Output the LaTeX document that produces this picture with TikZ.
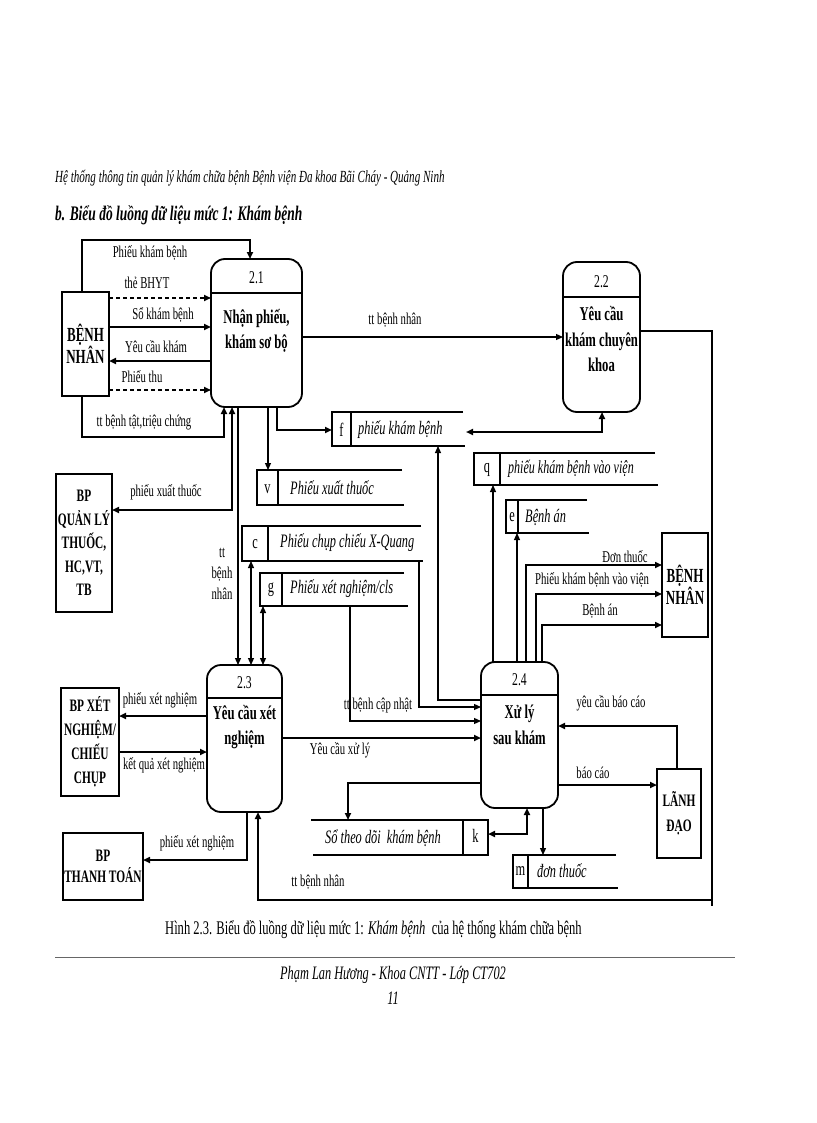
\documentclass[tikz,border=0pt]{standalone}
\usepackage{fontspec}
\setmainfont{Liberation Serif}[FakeStretch=0.65]
\usetikzlibrary{arrows.meta}
\begin{document}
\begin{tikzpicture}[x=1pt,y=-1pt,
  >={Triangle[length=7pt,width=6pt]},
  proc/.style={draw, rounded corners=14pt, line width=1.8pt, inner sep=0pt, outer sep=0pt},
  ext/.style={draw, line width=1.4pt, inner sep=0pt, outer sep=0pt, align=center, font=\bfseries\fontsize{17.5}{24}\selectfont},
  extb/.style={ext, font=\bfseries\fontsize{20}{21}\selectfont},
  ln/.style={line width=1.2pt},
  md/.style={line width=1.6pt},
  tk/.style={line width=2.1pt},
  dsh/.style={line width=1.6pt, dash pattern=on 4pt off 3pt},
  lbl/.style={inner sep=0pt, font=\fontsize{16.5}{21}\selectfont, align=center},
  ptitle/.style={inner sep=0pt, font=\bfseries\fontsize{19.5}{25.5}\selectfont, align=center},
  pnum/.style={inner sep=0pt, font=\fontsize{18}{20}\selectfont},
  sline/.style={line width=1.8pt},
  sid/.style={inner sep=0pt, font=\fontsize{19}{20}\selectfont},
  stxt/.style={inner sep=0pt, anchor=west, font=\itshape\fontsize{19}{20}\selectfont},
  sbox/.style={inner sep=0pt, outer sep=0pt}
]
\fill[white] (0,0) rectangle (816,1123);
\useasboundingbox (0,0) rectangle (816,1123);

% header
\node[anchor=base west, inner sep=0pt, font=\itshape\fontsize{17}{20}\selectfont] (hdr) at (55,183) {Hệ thống thông tin quản lý khám chữa bệnh Bệnh viện Đa khoa Bãi Cháy - Quảng Ninh};
\node[anchor=base west, inner sep=0pt, font=\bfseries\itshape\fontsize{20.7}{24}\selectfont] (ttl) at (55,221) {b. Biểu đồ luồng dữ liệu mức 1: Khám bệnh};

% processes
\node[proc, minimum width=91pt, minimum height=148pt] (p21) at (256.5,333) {};
\draw[line width=1.6pt] (p21.west |- 0,293) -- (p21.east |- 0,293);
\node[pnum] (p21n) at (256.5,278) {2.1};
\node[ptitle] (p21t) at (256.5,331) {Nhận phiếu,\\khám sơ bộ};

\node[proc, minimum width=77pt, minimum height=150pt] (p22) at (601.5,337) {};
\draw[line width=1.6pt] (p22.west |- 0,297) -- (p22.east |- 0,297);
\node[pnum] (p22n) at (601.5,282) {2.2};
\node[ptitle] (p22t) at (601.5,339) {Yêu cầu\\khám chuyên\\khoa};

\node[proc, minimum width=75pt, minimum height=147pt] (p23) at (244.5,738.5) {};
\draw[line width=1.6pt] (p23.west |- 0,698) -- (p23.east |- 0,698);
\node[pnum] (p23n) at (244.5,683) {2.3};
\node[ptitle] (p23t) at (244.5,727) {Yêu cầu xét\\nghiệm};

\node[proc, minimum width=77pt, minimum height=146pt] (p24) at (519.5,735) {};
\draw[line width=1.6pt] (p24.west |- 0,695) -- (p24.east |- 0,695);
\node[pnum] (p24n) at (519.5,680) {2.4};
\node[ptitle] (p24t) at (519.5,725) {Xử lý\\sau khám};

% external entities
\node[extb, minimum width=47pt, minimum height=104pt] (bn1) at (85.5,344) {BỆNH\\NHÂN};
\node[extb, minimum width=46pt, minimum height=104pt] (bn2) at (685,585) {BỆNH\\NHÂN};
\node[ext, minimum width=56pt, minimum height=138pt, font=\bfseries\fontsize{17.5}{23.5}\selectfont] (bpql) at (84,543) {BP\\QUẢN LÝ\\THUỐC,\\HC,VT,\\TB};
\node[ext, minimum width=58pt, minimum height=108pt] (bpxn) at (90,742) {BP XÉT\\NGHIỆM/\\CHIẾU\\CHỤP};
\node[ext, minimum width=80pt, minimum height=67pt, font=\bfseries\fontsize{17.5}{21}\selectfont] (bptt) at (103,866.5) {BP\\THANH TOÁN};
\node[ext, minimum width=44pt, minimum height=89pt, font=\bfseries\fontsize{17.5}{25}\selectfont] (ld) at (679,813.5) {LÃNH\\ĐẠO};

% data stores (open right)
\node[sbox, minimum width=131pt, minimum height=34pt] (f) at (397.5,429) {};
\draw[sline] (f.north east) -- (f.north west) -- (f.south west) -- ([xshift=2pt]f.south east);
\draw[sline] (351,0 |- f.north) -- (351,0 |- f.south);
\node[sid] (fid) at (341.5,430) {f};
\node[stxt] (ftx) at (358,430) {phiếu khám bệnh};

\node[sbox, minimum width=145pt, minimum height=35pt] (v) at (329.5,487.5) {};
\draw[sline] (v.north east) -- (v.north west) -- (v.south west) -- ([xshift=2pt]v.south east);
\draw[sline] (278,0 |- v.north) -- (278,0 |- v.south);
\node[sid] (vid) at (267.5,489) {v};
\node[stxt] (vtx) at (290,488) {Phiếu xuất thuốc};

\node[sbox, minimum width=179pt, minimum height=35pt] (c) at (331.5,543.5) {};
\draw[sline] (c.north east) -- (c.north west) -- (c.south west) -- ([xshift=2pt]c.south east);
\draw[sline] (268,0 |- c.north) -- (268,0 |- c.south);
\node[sid] (cid) at (255,544) {c};
\node[stxt] (ctx) at (280,543) {Phiếu chụp chiếu X-Quang};

\node[sbox, minimum width=144pt, minimum height=33pt] (g) at (332,589.5) {};
\draw[sline] (g.north east) -- (g.north west) -- (g.south west) -- ([xshift=4pt]g.south east);
\draw[sline] (282,0 |- g.north) -- (282,0 |- g.south);
\node[sid] (gid) at (271,590) {g};
\node[stxt] (gtx) at (290,589) {Phiếu xét nghiệm/cls};

\node[sbox, minimum width=181pt, minimum height=32pt] (q) at (564.5,469) {};
\draw[sline] (q.north east) -- (q.north west) -- (q.south west) -- ([xshift=3pt]q.south east);
\draw[sline] (500,0 |- q.north) -- (500,0 |- q.south);
\node[sid] (qid) at (487,470) {q};
\node[stxt, font=\itshape\fontsize{18.5}{20}\selectfont] (qtx) at (508,469) {phiếu khám bệnh vào viện};

\node[sbox, minimum width=81pt, minimum height=33pt] (e) at (546.5,516.5) {};
\draw[sline] (e.north east) -- (e.north west) -- (e.south west) -- ([xshift=2pt]e.south east);
\draw[sline] (518,0 |- e.north) -- (518,0 |- e.south);
\node[sid] (eid) at (512,517) {e};
\node[stxt] (etx) at (525,517) {Bệnh án};

\node[sbox, minimum width=103pt, minimum height=33pt] (m) at (564.5,871.5) {};
\draw[sline] (m.north east) -- (m.north west) -- (m.south west) -- ([xshift=2pt]m.south east);
\draw[sline] (528,0 |- m.north) -- (528,0 |- m.south);
\node[sid] (mid) at (520.5,871) {m};
\node[stxt] (mtx) at (537,871) {đơn thuốc};

% data store open left
\node[sbox, minimum width=177pt, minimum height=35pt] (k) at (399.5,837.5) {};
\draw[sline] (k.north west) -- (k.north east) -- (k.south east) -- ([xshift=2pt]k.south west);
\draw[sline] (463,0 |- k.north) -- (463,0 |- k.south);
\node[sid] (kid) at (475.5,836) {k};
\node[stxt, anchor=center] (ktx) at (383,838) {Sổ theo dõi\ \ khám bệnh};

% flows around 2.1
\draw[md,->] (82,0 |- bn1.north) -- (82,240) -- (250,240) -- (250,0 |- p21.north);
\node[lbl] (l1) at (150,253) {Phiếu khám bệnh};
\draw[dsh,->] (bn1.east |- 0,298) -- (p21.west |- 0,298);
\node[lbl] (l2) at (147,283) {thẻ BHYT};
\draw[tk,->] (bn1.east |- 0,327) -- (p21.west |- 0,327);
\node[lbl] (l3) at (163,315) {Sổ khám bệnh};
\draw[tk,->] (p21.west |- 0,361) -- (bn1.east |- 0,361);
\node[lbl] (l4) at (156,347) {Yêu cầu khám};
\draw[dsh,->] (bn1.east |- 0,390) -- (p21.west |- 0,390);
\node[lbl] (l5) at (142,377) {Phiếu thu};
\draw[tk,->] (82,0 |- bn1.south) -- (82,437) -- (224,437) -- (224,0 |- p21.south);
\node[lbl] (l6) at (144,423) {tt bệnh tật,triệu chứng};
\draw[md,<->] (232,0 |- p21.south) -- (232,510) -- (bpql.east |- 0,510);
\node[lbl] (l7) at (166,492) {phiếu xuất thuốc};
\draw[ln,->] (238,0 |- p21.south) -- (238,0 |- p23.north);
\node[lbl] (l8) at (222,574) {tt\\bệnh\\nhân};
\draw[ln,->] (268,0 |- p21.south) -- (268,0 |- v.north);
\draw[tk,->] (277,0 |- p21.south) -- (277,430) -- (f.west |- 0,430);
\draw[ln,->] (p21.east |- 0,337) -- (p22.west |- 0,337);
\node[lbl] (l9) at (395,320) {tt bệnh nhân};

% flows around 2.2
\draw[tk,<->] (602,0 |- p22.south) -- (602,432) -- ([xshift=3pt]f.east |- 0,432);
\draw[tk,->] (p22.east |- 0,331) -- (712,331) -- (712,900) -- (258,900) -- (258,0 |- p23.south);
\draw[ln] (712,900) -- (712,906);
\node[lbl] (l10) at (318,882) {tt bệnh nhân};

% stores to 2.3 / 2.4
\draw[ln,<->] (251,0 |- c.south) -- (251,0 |- p23.north);
\draw[ln,<->] (263,0 |- g.south) -- (263,0 |- p23.north);
\draw[ln,->] (419,0 |- c.south) -- (419,707) -- (p24.west |- 0,707);
\draw[ln,->] (p24.west |- 0,700) -- (438,700) -- (438,0 |- f.south);
\draw[ln,->] (350,0 |- g.south) -- (350,721) -- (p24.west |- 0,721);
\node[lbl] (l11) at (378,706) {tt bệnh cập nhật};
\draw[tk,->] (p23.east |- 0,738) -- (p24.west |- 0,738);
\node[lbl] (l12) at (340,750) {Yêu cầu xử lý};

% flows from 2.4
\draw[ln,->] (493,0 |- p24.north) -- (493,0 |- q.south);
\draw[ln,->] (517,0 |- p24.north) -- (517,0 |- e.south);
\draw[md,->] (526,0 |- p24.north) -- (526,565) -- (bn2.west |- 0,565);
\node[lbl] (l13) at (625,557) {Đơn thuốc};
\draw[md,->] (536,0 |- p24.north) -- (536,594) -- (bn2.west |- 0,594);
\node[lbl] (l14) at (592,580) {Phiếu khám bệnh vào viện};
\draw[md,->] (542,0 |- p24.north) -- (542,625) -- (bn2.west |- 0,625);
\node[lbl] (l15) at (600,611) {Bệnh án};
\draw[tk,->] (677,0 |- ld.north) -- (677,726) -- (p24.east |- 0,726);
\node[lbl] (l16) at (611,703) {yêu cầu báo cáo};
\draw[tk,->] (p24.east |- 0,785) -- (ld.west |- 0,785);
\node[lbl] (l17) at (593,773) {báo cáo};
\draw[ln,->] (543,0 |- p24.south) -- (543,0 |- m.north);
\draw[tk,<->] (527,0 |- p24.south) -- (527,834) -- (k.east |- 0,834);
\draw[tk,->] (p24.west |- 0,783) -- (348,783) -- (348,0 |- k.north);

% flows around 2.3
\draw[tk,->] (p23.west |- 0,716) -- (bpxn.east |- 0,716);
\node[lbl] (l18) at (160,700) {phiếu xét nghiệm};
\draw[tk,->] (bpxn.east |- 0,752) -- (p23.west |- 0,752);
\node[lbl] (l19) at (164,765) {kết quả xét nghiệm};
\draw[md,->] (247,0 |- p23.south) -- (247,860) -- (bptt.east |- 0,860);
\node[lbl] (l20) at (197,843) {phiếu xét nghiệm};

% caption and footer
\node[anchor=base west, inner sep=0pt, font=\fontsize{19.3}{21}\selectfont] (cap) at (165,934) {Hình 2.3. Biểu đồ luồng dữ liệu mức 1: \textit{Khám bệnh}\ \ của hệ thống khám chữa bệnh};
\draw[line width=0.8pt, black!60] (55,957) -- (735,957);
\node[inner sep=0pt, font=\itshape\fontsize{19}{20}\selectfont] (foot) at (393,975) {Phạm Lan Hương - Khoa CNTT - Lớp CT702};
\node[inner sep=0pt, font=\itshape\fontsize{19}{20}\selectfont] (pg) at (393,998) {11};
\end{tikzpicture}
\end{document}
